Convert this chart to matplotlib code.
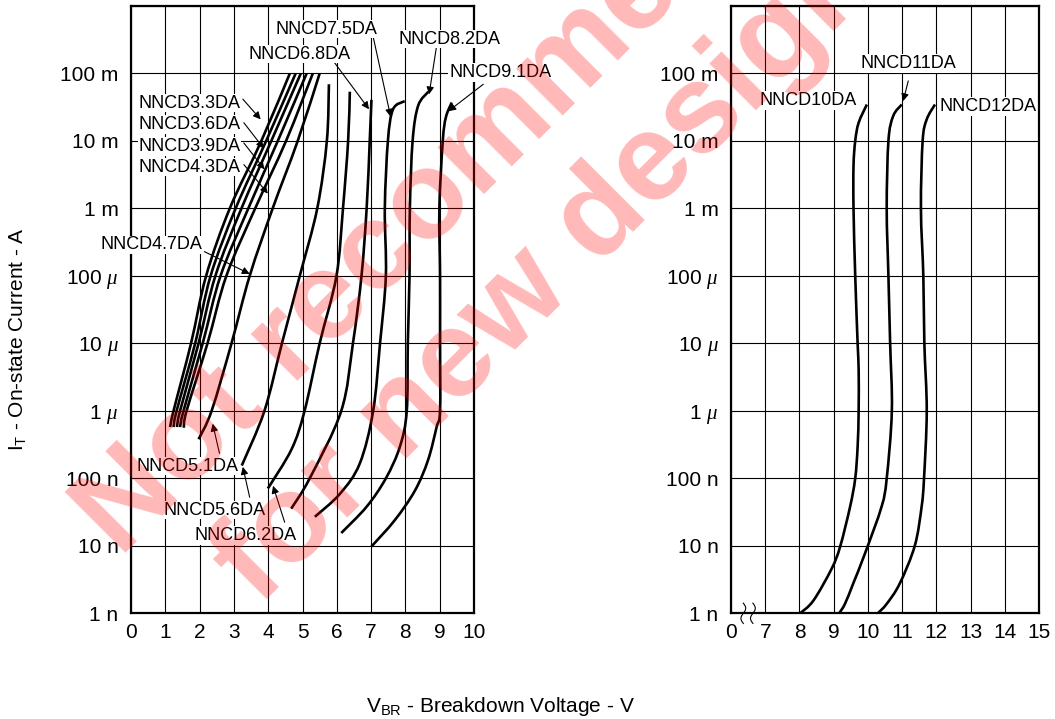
import numpy as np
import matplotlib.pyplot as plt
from matplotlib.path import Path
from matplotlib.patches import PathPatch

plt.rcParams["font.family"] = ["Liberation Sans", "DejaVu Sans"]
plt.rcParams["mathtext.fontset"] = "custom"
plt.rcParams["mathtext.rm"] = "Liberation Sans"
plt.rcParams["mathtext.it"] = "Liberation Serif:italic"

# ==========================================================
# DATA  (breakdown voltage V, log10 of on-state current A)
# ==========================================================
y_ticks = [1e-9, 1e-8, 1e-7, 1e-6, 1e-5, 1e-4, 1e-3, 1e-2, 1e-1, 1e0]
y_labels = ["1 n", "10 n", "100 n", r"1 $\mu$", r"10 $\mu$", r"100 $\mu$",
            "1 m", "10 m", "100 m", ""]

left_xticks = [0, 1, 2, 3, 4, 5, 6, 7, 8, 9, 10]
right_xticks = [6, 7, 8, 9, 10, 11, 12, 13, 14, 15]
right_xlabels = ["0", "7", "8", "9", "10", "11", "12", "13", "14", "15"]

# left panel
nncd33_v = [1.14, 1.24, 1.75, 2.19, 2.88, 3.80, 4.63]
nncd33_logi = [-6.24, -6, -5, -4, -3, -2, -1]
nncd36_v = [1.24, 1.33, 1.87, 2.32, 3.05, 3.94, 4.80]
nncd36_logi = [-6.24, -6, -5, -4, -3, -2, -1]
nncd39_v = [1.34, 1.43, 1.97, 2.46, 3.22, 4.09, 4.95]
nncd39_logi = [-6.24, -6, -5, -4, -3, -2, -1]
nncd43_v = [1.43, 1.53, 2.09, 2.61, 3.42, 4.28, 5.12]
nncd43_logi = [-6.24, -6, -5, -4, -3, -2, -1]
nncd47_v = [1.54, 1.62, 2.23, 2.78, 3.62, 4.52, 5.30]
nncd47_logi = [-6.25, -6, -5, -4, -3, -2, -1]
nncd51_v = [1.97, 2.35, 2.93, 3.46, 4.13, 4.86, 5.50]
nncd51_logi = [-6.42, -6, -5, -4, -3, -2, -1]
nncd56_v = [3.23, 3.89, 4.40, 4.92, 5.43, 5.71, 5.77]
nncd56_logi = [-6.81, -6, -5, -4, -3, -2, -1.16]
nncd62_v = [3.99, 4.68, 5.06, 5.50, 5.99, 6.18, 6.33, 6.38]
nncd62_logi = [-7.15, -6.57, -6, -5, -4, -3, -2, -1.27]
nncd68_v = [4.67, 5.21, 6.13, 6.47, 6.72, 6.87, 6.96, 7.01]
nncd68_logi = [-7.45, -7, -6, -5, -4, -3, -2, -1.39]
nncd75_v = [5.36, 6.09, 6.67, 7.06, 7.26, 7.43, 7.40, 7.49, 7.64, 7.98]
nncd75_logi = [-7.57, -7.23, -6.78, -6, -5, -4, -3, -2, -1.53, -1.41]
nncd82_v = [6.13, 6.87, 7.43, 7.84, 8.04, 8.07, 8.12, 8.13, 8.21, 8.37, 8.67]
nncd82_logi = [-7.81, -7.42, -7, -6.53, -6, -5, -4, -3, -2, -1.48, -1.27]
nncd91_v = [7.01, 7.69, 8.28, 8.66, 8.91, 9.01, 9.01, 9.01, 8.99, 9.09, 9.18, 9.35]
nncd91_logi = [-8.01, -7.62, -7.18, -6.73, -6.24, -6, -5, -4, -3, -2, -1.65, -1.43]

# right panel
nncd10_v = [8.02, 8.41, 8.94, 9.19, 9.48, 9.63, 9.70, 9.73, 9.73, 9.70,
            9.63, 9.58, 9.58, 9.63, 9.73, 9.97]
nncd10_logi = [-9, -8.81, -8.34, -8.01, -7.42, -7.0, -6.53, -6.0, -5.39, -5.0,
               -4.0, -3.0, -2.37, -2.0, -1.73, -1.46]
nncd11_v = [9.16, 9.33, 9.57, 9.91, 10.40, 10.55, 10.70, 10.65, 10.60,
            10.55, 10.60, 10.74, 10.99]
nncd11_logi = [-9, -8.86, -8.56, -8.12, -7.42, -7, -6, -5, -4, -3, -2,
               -1.63, -1.46]
nncd12_v = [10.29, 10.55, 10.93, 11.37, 11.57, 11.64, 11.72, 11.65, 11.62,
            11.55, 11.60, 11.72, 11.96]
nncd12_logi = [-9, -8.86, -8.56, -8, -7.42, -7, -6, -5, -4, -3, -2, -1.68,
               -1.46]

left_curves = [
    (nncd33_v, nncd33_logi), (nncd36_v, nncd36_logi), (nncd39_v, nncd39_logi),
    (nncd43_v, nncd43_logi), (nncd47_v, nncd47_logi), (nncd51_v, nncd51_logi),
    (nncd56_v, nncd56_logi), (nncd62_v, nncd62_logi), (nncd68_v, nncd68_logi),
    (nncd75_v, nncd75_logi), (nncd82_v, nncd82_logi), (nncd91_v, nncd91_logi),
]
right_curves = [
    (nncd10_v, nncd10_logi), (nncd11_v, nncd11_logi), (nncd12_v, nncd12_logi),
]

# labels: text, label centre, arrow tail, arrow tip  (V, log10 I)
left_notes = [
    ("NNCD3.3DA", (1.70, -1.44), (3.26, -1.38), (3.78, -1.68)),
    ("NNCD3.6DA", (1.70, -1.755), (3.29, -1.73), (3.87, -2.11)),
    ("NNCD3.9DA", (1.70, -2.08), (3.29, -2.03), (3.89, -2.42)),
    ("NNCD4.3DA", (1.70, -2.39), (3.29, -2.35), (3.99, -2.78)),
    ("NNCD4.7DA", (0.59, -3.54), (2.14, -3.64), (3.46, -3.97)),
    ("NNCD5.1DA", (1.65, -6.82), (2.58, -6.63), (2.38, -6.19)),
    ("NNCD5.6DA", (2.43, -7.47), (3.46, -7.28), (3.26, -6.83)),
    ("NNCD6.2DA", (3.35, -7.85), (4.48, -7.65), (4.14, -7.11)),
    ("NNCD6.8DA", (4.92, -0.713), (5.89, -0.81), (6.94, -1.53)),
    ("NNCD7.5DA", (5.71, -0.342), (7.01, -0.34), (7.57, -1.64)),
    ("NNCD8.2DA", (9.30, -0.49), (8.91, -0.59), (8.69, -1.31)),
    ("NNCD9.1DA", (10.76, -0.986), (10.27, -1.16), (9.25, -1.56)),
]
right_notes = [
    ("NNCD10DA", (8.25, -1.40), None, None),
    ("NNCD11DA", (11.17, -0.85), (11.18, -1.11), (11.03, -1.41)),
    ("NNCD12DA", (13.51, -1.49), None, None),
]

# ==========================================================
# FIGURE
# ==========================================================
W, H = 1055, 719
fig = plt.figure(figsize=(W / 100, H / 100), dpi=100)

bottom = (H - 613.3) / H
height = (613.3 - 6) / H
ax1 = fig.add_axes([131 / W, bottom, 343 / W, height])
ax2 = fig.add_axes([731 / W, bottom, 308 / W, height])


def style_axes(ax, xlim, xticks, xlabels):
    ax.set_yscale("log")
    ax.set_ylim(1e-9, 1e0)
    ax.set_xlim(*xlim)
    ax.set_yticks(y_ticks)
    ax.set_yticklabels(y_labels)
    ax.minorticks_off()
    ax.set_xticks(xticks)
    ax.set_xticklabels(xlabels)
    ax.tick_params(length=0, labelsize=15, colors="black")
    ax.tick_params(axis="y", pad=9)
    ax.tick_params(axis="x", pad=7)
    ax.grid(True, color="black", linewidth=0.8)
    ax.set_axisbelow(True)
    for sp in ax.spines.values():
        sp.set_linewidth(1.6)


style_axes(ax1, (0, 10), left_xticks, [str(t) for t in left_xticks])
style_axes(ax2, (6, 15), right_xticks, right_xlabels)


def smooth_curve(ax, v, logi):
    # smooth bezier path through the read points, drawn in data coords
    p = np.column_stack([v, logi]).astype(float)
    n = len(p)
    verts = [p[0]]
    codes = [Path.MOVETO]
    for i in range(n - 1):
        p0 = p[max(i - 1, 0)]
        p1 = p[i]
        p2 = p[i + 1]
        p3 = p[min(i + 2, n - 1)]
        verts += [p1 + (p2 - p0) / 6, p2 - (p3 - p1) / 6, p2]
        codes += [Path.CURVE4] * 3
    verts = np.array(verts)
    verts[:, 1] = 10 ** verts[:, 1]
    ax.add_patch(PathPatch(Path(verts, codes), facecolor="none",
                           edgecolor="black", lw=1.9, capstyle="butt",
                           zorder=3))


for v, li in left_curves:
    smooth_curve(ax1, v, li)
for v, li in right_curves:
    smooth_curve(ax2, v, li)


def add_notes(ax, notes):
    for txt, pos, tail, tip in notes:
        ax.text(pos[0], 10 ** pos[1], txt, fontsize=13, ha="center",
                va="center", zorder=5,
                bbox=dict(facecolor="white", edgecolor="none", pad=0.5))
        if tip is not None:
            ax.annotate("", xy=(tip[0], 10 ** tip[1]),
                        xytext=(tail[0], 10 ** tail[1]),
                        arrowprops=dict(arrowstyle="-|>", color="black",
                                        lw=0.8, mutation_scale=11,
                                        shrinkA=0, shrinkB=0),
                        zorder=4)


add_notes(ax1, left_notes)
add_notes(ax2, right_notes)

# axis break marks on right panel
for dx in (-0.14, 0.14):
    t = np.linspace(-1, 1, 30)
    bx = 6.5 + dx + 0.07 * np.sin(t * np.pi)
    by = 10 ** (-9 + 0.15 * t)
    ax2.plot(bx, by, color="black", lw=0.8, clip_on=False, zorder=6)

# axis titles
fig.text(500 / W, 1 - 706 / H, r"V$_{\rm BR}$ - Breakdown Voltage - V",
         ha="center", va="center", fontsize=15)
fig.text(18 / W, 1 - 339 / H, r"I$_{\rm T}$ - On-state Current - A",
         ha="center", va="center", fontsize=15, rotation=90)

# watermark
wm = dict(color="red", alpha=0.28, fontsize=90, fontweight="bold",
          rotation=45, ha="center", va="center", rotation_mode="anchor",
          zorder=10)
fig.text(486 / W, 1 - 148 / H, "Not recommended", **wm)
fig.text(548 / W, 1 - 272 / H, "for new design", **wm)

fig.savefig("out.png", dpi=100)
